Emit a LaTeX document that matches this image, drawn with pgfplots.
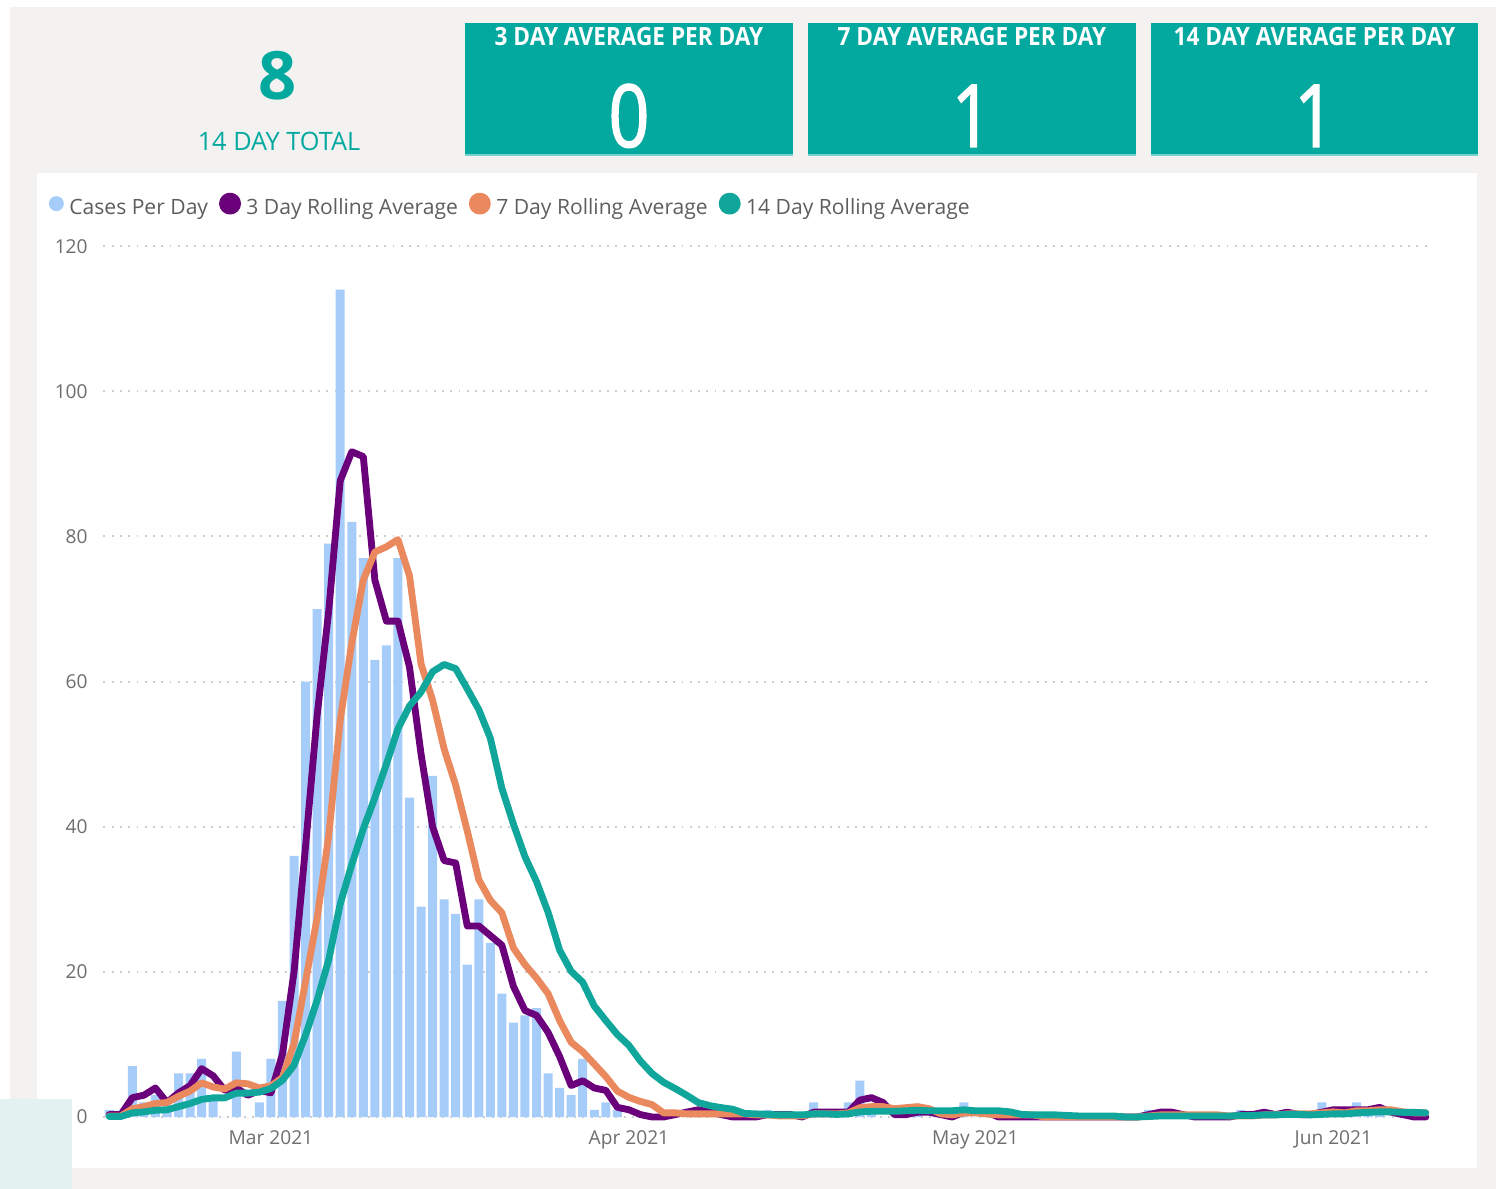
\documentclass[border=0pt]{standalone}
\usepackage{fontspec}
\setmainfont{Open Sans}
\newfontfamily\cardtitle{Open Sans}[FakeStretch=0.9]
\newfontfamily\cardnum{Open Sans}[FakeStretch=0.82,FakeBold=1.6]
\usepackage{pgfplots}
\pgfplotsset{compat=1.18}
\usepackage{pgfplotstable}
\definecolor{bggray}{RGB}{243,242,241}
\definecolor{cardteal}{RGB}{3,168,158}
\definecolor{cardline}{RGB}{120,210,204}
\definecolor{mint}{RGB}{226,242,241}
\definecolor{barblue}{RGB}{166,205,250}
\definecolor{purp}{RGB}{107,0,123}
\definecolor{oran}{RGB}{235,137,94}
\definecolor{tealline}{RGB}{17,166,155}
\definecolor{gridgray}{RGB}{205,205,205}
\definecolor{tickgray}{RGB}{110,110,110}
\definecolor{leggray}{RGB}{96,94,92}

\pgfplotstableread{
d c r3 r7 r14
-14 1 0.33 0.14 0.07
-13 0 0.33 0.14 0.07
-12 7 2.67 1.14 0.57
-11 2 3.00 1.43 0.71
-10 3 4.00 1.86 0.93
-9 1 2.00 2.00 1.00
-8 6 3.33 2.86 1.43
-7 6 4.33 3.57 1.86
-6 8 6.67 4.71 2.43
-5 3 5.67 4.14 2.64
-4 0 3.67 3.86 2.64
-3 9 4.00 4.71 3.29
-2 0 3.00 4.57 3.29
-1 2 3.67 4.00 3.43
0 8 3.33 4.29 3.93
1 16 8.67 5.43 5.07
2 36 20.00 10.14 7.14
3 60 37.33 18.71 11.29
4 70 55.33 27.43 16.07
5 79 69.67 38.71 21.64
6 114 87.67 54.71 29.36
7 82 91.67 65.29 34.79
8 77 91.00 74.00 39.71
9 63 74.00 77.86 44.00
10 65 68.33 78.57 48.64
11 77 68.33 79.57 53.50
12 44 62.00 74.57 56.64
13 29 50.00 62.43 58.57
14 47 40.00 57.43 61.36
15 30 35.33 50.71 62.36
16 28 35.00 45.71 61.79
17 21 26.33 39.43 59.00
18 30 26.33 32.71 56.14
19 24 25.00 29.86 52.21
20 17 23.67 28.14 45.29
21 13 18.00 23.29 40.36
22 14 14.67 21.00 35.86
23 15 14.00 19.14 32.43
24 6 11.67 17.00 28.21
25 4 8.33 13.29 23.00
26 3 4.33 10.29 20.07
27 8 5.00 9.00 18.57
28 1 4.00 7.29 15.29
29 2 3.67 5.57 13.29
30 1 1.33 3.57 11.36
31 0 1.00 2.71 9.86
32 0 0.33 2.14 7.71
33 0 0.00 1.71 6.00
34 0 0.00 0.57 4.79
35 1 0.33 0.57 3.93
36 1 0.67 0.43 3.00
37 1 1.00 0.43 2.00
38 0 0.67 0.43 1.57
39 0 0.33 0.43 1.29
40 0 0.00 0.43 1.07
41 0 0.00 0.43 0.50
42 0 0.00 0.29 0.43
43 1 0.33 0.29 0.36
44 0 0.33 0.14 0.29
45 0 0.33 0.14 0.29
46 0 0.00 0.14 0.29
47 2 0.67 0.43 0.43
48 0 0.67 0.43 0.43
49 0 0.67 0.43 0.36
50 2 0.67 0.57 0.43
51 5 2.33 1.29 0.71
52 1 2.67 1.43 0.79
53 0 2.00 1.43 0.79
54 0 0.33 1.14 0.79
55 1 0.33 1.29 0.86
56 1 0.67 1.43 0.93
57 0 0.67 1.14 0.86
58 0 0.33 0.43 0.86
59 0 0.00 0.29 0.86
60 2 0.67 0.57 1.00
61 0 0.67 0.57 0.86
62 0 0.67 0.43 0.86
63 0 0.00 0.29 0.86
64 0 0.00 0.29 0.71
65 0 0.00 0.29 0.36
66 0 0.00 0.29 0.29
67 0 0.00 0.00 0.29
68 0 0.00 0.00 0.29
69 0 0.00 0.00 0.21
70 0 0.00 0.00 0.14
71 0 0.00 0.00 0.14
72 0 0.00 0.00 0.14
73 0 0.00 0.00 0.14
74 0 0.00 0.00 0.00
75 0 0.00 0.00 0.00
76 1 0.33 0.14 0.07
77 1 0.67 0.29 0.14
78 0 0.67 0.29 0.14
79 0 0.33 0.29 0.14
80 0 0.00 0.29 0.14
81 0 0.00 0.29 0.14
82 0 0.00 0.29 0.14
83 0 0.00 0.14 0.14
84 1 0.33 0.14 0.21
85 0 0.33 0.14 0.21
86 1 0.67 0.29 0.29
87 0 0.33 0.29 0.29
88 1 0.67 0.43 0.36
89 0 0.33 0.43 0.36
90 0 0.33 0.43 0.29
91 2 0.67 0.57 0.36
92 1 1.00 0.71 0.43
93 0 1.00 0.57 0.43
94 2 1.00 0.86 0.57
95 1 1.00 0.86 0.64
96 1 1.33 1.00 0.71
97 0 0.67 1.00 0.71
98 0 0.33 0.71 0.64
99 0 0.00 0.57 0.64
100 0 0.00 0.57 0.57
}\casedata

\begin{document}
\begin{tikzpicture}[x=0.02cm,y=0.02cm]
% backgrounds
\fill[white] (0,0) rectangle (1500,1189);
\fill[bggray] (10,0) rectangle (1496,1182);
\fill[white] (37,21) rectangle (1477,1016);
\fill[mint] (0,0) rectangle (72,90);
% KPI cards
\foreach \xa/\xb in {465/793, 808/1136, 1151/1478}{
  \fill[cardteal] (\xa,1033) rectangle (\xb,1166);
  \draw[cardline, line width=0.04cm] (\xa,1034) -- (\xb,1034);
}
\node[anchor=base, inner sep=0pt, text=white, font=\cardtitle\bfseries\fontsize{14.3pt}{15pt}\selectfont] at (629,1143) {3 DAY AVERAGE PER DAY};
\node[anchor=base, inner sep=0pt, text=white, font=\cardtitle\bfseries\fontsize{14.3pt}{15pt}\selectfont] at (972,1143) {7 DAY AVERAGE PER DAY};
\node[anchor=base, inner sep=0pt, text=white, font=\cardtitle\bfseries\fontsize{14.3pt}{15pt}\selectfont] at (1314.5,1143) {14 DAY AVERAGE PER DAY};
\node[anchor=base, inner sep=0pt, text=white, font=\cardnum\fontsize{49.5pt}{50pt}\selectfont] at (629,1042) {0};
\node[anchor=base, inner sep=0pt, text=white, font=\cardnum\fontsize{49.5pt}{50pt}\selectfont] at (972,1042) {1};
\node[anchor=base, inner sep=0pt, text=white, font=\cardnum\fontsize{49.5pt}{50pt}\selectfont] at (1314.5,1042) {1};
\node[anchor=base, inner sep=0pt, text=cardteal, font=\bfseries\fontsize{38pt}{40pt}\selectfont] at (278,1089) {8};
\node[anchor=base, inner sep=0pt, text=cardteal, font=\fontsize{14.4pt}{16pt}\selectfont] at (279,1038.5) {14 DAY TOTAL};

\begin{axis}[
  at={(2.07cm,1.44cm)}, anchor=south west,
  scale only axis, width=26.566cm, height=17.42cm,
  xmin=-14.5, xmax=100.5, ymin=0, ymax=120,
  clip=false,
  axis line style={draw=none}, major tick length=0pt,
  ytick={0,20,...,120},
  ymajorgrids,
  major grid style={gridgray, line width=1.1pt, dash pattern=on 1.1pt off 3.6pt},
  xtick={0,31,61,92},
  xticklabels={Mar 2021,Apr 2021,May 2021,Jun 2021},
  tick label style={font=\fontsize{10.9pt}{13pt}\selectfont, text=tickgray},
  /pgf/number format/assume math mode=true,
  yticklabel style={anchor=east, inner sep=0pt, xshift=-0.31cm},
  xticklabel style={anchor=north, inner sep=0pt, yshift=-0.26cm},
  legend columns=-1,
  legend cell align=left,
  legend style={at={(-0.0414,1.0472)}, anchor=west, draw=none, fill=none,
    inner sep=0pt, font=\fontsize{12pt}{14pt}\selectfont, text=leggray,
    nodes={inner sep=0pt},
    /tikz/every odd column/.append style={column sep=0.11cm},
    /tikz/every even column/.append style={column sep=0.22cm}},
]
\addplot[ybar, bar width=0.78, fill=barblue, draw=none,
  legend image code/.code={\fill[barblue] (0.15cm,0.09cm) circle[radius=0.15cm];}]
  table[x=d, y=c] {\casedata};
\addlegendentry{Cases Per Day}
\addplot[purp, line width=3.9pt, line join=round, line cap=round, mark=none,
  legend image code/.code={\fill[purp] (0.15cm,0.09cm) circle[radius=0.15cm];}]
  table[x=d, y=r3] {\casedata};
\addlegendentry{3 Day Rolling Average}
\addplot[oran, line width=3.9pt, line join=round, line cap=round, mark=none,
  legend image code/.code={\fill[oran] (0.15cm,0.09cm) circle[radius=0.15cm];}]
  table[x=d, y=r7] {\casedata};
\addlegendentry{7 Day Rolling Average}
\addplot[tealline, line width=3.9pt, line join=round, line cap=round, mark=none,
  legend image code/.code={\fill[tealline] (0.15cm,0.09cm) circle[radius=0.15cm];}]
  table[x=d, y=r14] {\casedata};
\addlegendentry{14 Day Rolling Average}
\end{axis}
\end{tikzpicture}
\end{document}
